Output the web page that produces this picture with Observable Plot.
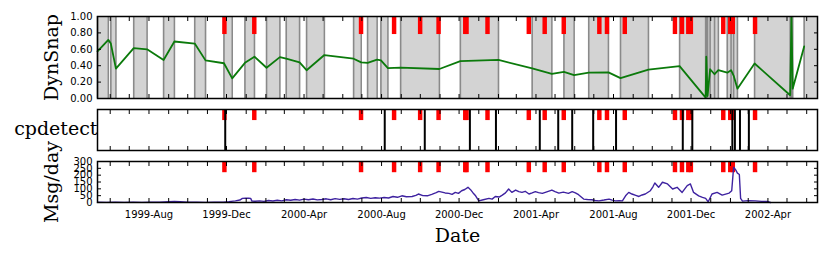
<!DOCTYPE html>
<html>
<head>
<meta charset="utf-8">
<script src="https://cdn.jsdelivr.net/npm/d3@7"></script>
<script src="https://cdn.jsdelivr.net/npm/@observablehq/plot@0.6"></script>
<style>
  html, body { margin: 0; padding: 0; background: #fff; }
  #chart { position: relative; width: 830px; height: 257px; overflow: hidden; background: #fff; }
  #chart svg { position: absolute; left: 0; }
</style>
</head>
<body>
<div id="chart"></div>
<script>
// ---------- data ----------
const xDomain = ["1999-05-12", "2002-06-18"];
const xTickDates = ["1999-08-01","1999-12-01","2000-04-01","2000-08-01","2000-12-01","2001-04-01","2001-08-01","2001-12-01","2002-04-01"];
const snapTicks = [0, 0.2, 0.4, 0.6, 0.8, 1.0];
const msgTicks = [0, 50, 100, 150, 200, 250, 300];
const panelLabels = ["DynSnap", "cpdetect", "Msg/day"];
const xLabel = "Date";

// DynSnap values at snapshot boundaries
const snapDates = ["1999-05-12","1999-05-29","1999-06-02","1999-06-10","1999-07-08","1999-07-29","1999-08-24","1999-09-10","1999-10-12","1999-10-29",
  "1999-11-27","1999-12-10","1999-12-30","2000-01-14","2000-02-02","2000-02-23","2000-03-04","2000-03-25","2000-04-05","2000-05-03",
  "2000-06-18","2000-06-30","2000-07-10","2000-07-25","2000-07-31","2000-08-11","2000-08-31","2000-10-31","2000-12-03","2001-02-01",
  "2001-03-26","2001-04-26","2001-05-15","2001-05-31","2001-06-23","2001-07-24","2001-08-12","2001-09-25","2001-11-13","2001-12-24",
  "2001-12-25","2001-12-27","2001-12-31","2002-01-07","2002-01-13","2002-01-27","2002-02-02","2002-02-06","2002-02-12","2002-03-11",
  "2002-05-06","2002-05-08","2002-05-10","2002-05-28"];
const snapValues = [0.575,0.715,0.67,0.365,0.615,0.60,0.47,0.695,0.67,0.465,
  0.43,0.245,0.435,0.51,0.375,0.505,0.485,0.44,0.345,0.53,
  0.485,0.44,0.435,0.475,0.465,0.37,0.377,0.36,0.455,0.47,
  0.367,0.30,0.325,0.286,0.315,0.318,0.248,0.353,0.395,0.01,
  0.51,0.03,0.357,0.296,0.345,0.315,0.345,0.28,0.12,0.427,
  0.04,0.99,0.12,0.635];

// grey shaded snapshot windows
const shadeStart = ["1999-05-12","1999-06-02","1999-07-08","1999-08-24","1999-10-12","1999-11-27","1999-12-30","2000-02-02","2000-03-04","2000-04-05",
  "2000-06-18","2000-07-10","2000-07-31","2000-08-31","2000-12-03","2001-03-26","2001-05-15","2001-06-23","2001-08-12","2001-11-13",
  "2001-12-27","2002-01-27","2002-03-11","2002-05-28"];
const shadeEnd = ["1999-05-29","1999-06-10","1999-07-29","1999-09-10","1999-10-29","1999-12-10","2000-01-14","2000-02-23","2000-03-25","2000-05-03",
  "2000-06-30","2000-07-25","2000-08-11","2000-10-31","2001-02-01","2001-04-26","2001-05-31","2001-07-24","2001-09-25","2001-12-24",
  "2002-01-13","2002-02-12","2002-05-08","2002-06-18"];

// red event weeks
const eventDates = ["1999-11-25","2000-01-11","2000-06-27","2000-08-18","2000-09-28","2000-10-27","2000-12-08","2000-12-10","2001-01-12","2001-03-18",
  "2001-04-12","2001-05-12","2001-07-07","2001-07-19","2001-08-16","2001-11-03","2001-11-14","2001-11-24","2001-11-28","2002-01-18",
  "2002-01-29","2002-02-02","2002-03-09"];
const eventDays = 7;

// cpdetect change points
const cpDates = ["1999-11-29","2000-08-06","2000-10-08","2000-12-18","2001-01-28","2001-04-07","2001-05-06","2001-05-28","2001-06-30","2001-08-05",
  "2001-11-18","2001-12-03","2002-02-04","2002-02-08","2002-02-16","2002-03-02"];

// messages per day
const msgDates = [
  "1999-05-12","1999-05-26","1999-06-09","1999-06-23","1999-07-07","1999-07-21","1999-08-04","1999-08-18","1999-09-01","1999-09-10",
  "1999-09-19","1999-10-01","1999-10-15","1999-10-29","1999-11-12","1999-11-26","1999-12-05","1999-12-15","1999-12-22","1999-12-26",
  "1999-12-31","2000-01-05","2000-01-08","2000-01-10","2000-01-15","2000-01-22","2000-01-29","2000-02-05","2000-02-12","2000-02-19",
  "2000-02-26","2000-03-04","2000-03-11","2000-03-18","2000-03-25","2000-04-01","2000-04-08","2000-04-15","2000-04-22","2000-04-29",
  "2000-05-06","2000-05-13","2000-05-20","2000-05-27","2000-06-03","2000-06-10","2000-06-17","2000-06-24","2000-07-01","2000-07-08",
  "2000-07-15","2000-07-22","2000-07-29","2000-08-05","2000-08-12","2000-08-19","2000-08-26","2000-09-02","2000-09-09","2000-09-18",
  "2000-09-24","2000-09-28","2000-10-05","2000-10-12","2000-10-19","2000-10-26","2000-10-30","2000-11-04","2000-11-09","2000-11-15",
  "2000-11-20","2000-11-25","2000-11-30","2000-12-05","2000-12-10","2000-12-15","2000-12-19","2000-12-23","2000-12-27","2001-01-01",
  "2001-01-08","2001-01-17","2001-01-22","2001-01-27","2001-02-02","2001-02-07","2001-02-12","2001-02-17","2001-02-22","2001-02-28",
  "2001-03-05","2001-03-10","2001-03-15","2001-03-21","2001-03-26","2001-03-31","2001-04-05","2001-04-11","2001-04-18","2001-04-26",
  "2001-05-01","2001-05-07","2001-05-14","2001-05-22","2001-05-28","2001-06-02","2001-06-07","2001-06-15","2001-06-21","2001-06-28",
  "2001-07-03","2001-07-09","2001-07-17","2001-07-25","2001-07-30","2001-08-04","2001-08-10","2001-08-15","2001-08-20","2001-08-25",
  "2001-08-30","2001-09-05","2001-09-10","2001-09-15","2001-09-20","2001-09-28","2001-10-02","2001-10-05","2001-10-11","2001-10-17",
  "2001-10-25","2001-11-02","2001-11-09","2001-11-17","2001-11-25","2001-11-30","2001-12-05","2001-12-13","2001-12-19","2001-12-24",
  "2001-12-28","2002-01-03","2002-01-11","2002-01-19","2002-01-30","2002-02-03","2002-02-06","2002-02-09","2002-02-12","2002-02-15",
  "2002-02-17","2002-02-20","2002-03-01","2002-03-12","2002-03-22","2002-03-31","2002-04-05"];
const msgValues = [
  2,1,2,1,2,1,2,3,6,7,
  5,3,2,1,2,3,6,12,18,30,
  32,31,30,10,9,12,8,15,11,16,
  12,20,16,22,17,25,20,26,19,22,
  27,20,28,23,27,22,29,25,33,37,
  30,35,32,37,33,44,38,49,42,44,
  52,62,50,49,60,72,81,76,70,67,
  60,74,67,86,95,111,94,70,49,12,
  20,30,25,44,40,54,70,99,74,91,
  80,74,82,62,70,79,72,67,78,91,
  80,69,76,67,79,70,57,25,22,20,
  15,12,18,25,17,12,14,12,49,74,
  62,52,44,55,62,86,115,143,111,148,
  136,99,111,74,124,136,74,49,38,30,
  5,62,74,54,69,86,258,240,215,205,
  30,10,14,12,8,7,0];

// ---------- build ----------
const parse = d3.utcParse("%Y-%m-%d");
const domain = xDomain.map(parse);
const monthTicks = d3.utcMonth.range(domain[0], domain[1]).filter(d => d > domain[0]);
const snap = snapDates.map((d, i) => ({date: parse(d), value: snapValues[i]}));
const shades = shadeStart.map((s, i) => ({x1: parse(s), x2: parse(shadeEnd[i])}));
const events = eventDates.map(s => ({x1: parse(s), x2: d3.utcDay.offset(parse(s), eventDays)}));
const cps = cpDates.map(parse);
const msg = msgDates.map((d, i) => ({date: parse(d), value: msgValues[i]}));
const xTicks = xTickDates.map(parse);

const W = 830, ML = 97, MR = 13;
const serif = "DejaVu Serif";
const baseStyle = {fontFamily: "DejaVu Sans", fontSize: "10px", background: "transparent", overflow: "visible", color: "black"};

function boxTicks(yTicks) {
  const blank = () => "";
  const marks = [
    Plot.axisX({anchor: "bottom", ticks: monthTicks, tickSize: 4, dy: -4, tickFormat: blank, label: null, strokeWidth: 1}),
    Plot.axisX({anchor: "top", ticks: monthTicks, tickSize: 4, dy: 4, tickFormat: blank, label: null, strokeWidth: 1})
  ];
  if (yTicks) {
    marks.push(Plot.axisY({anchor: "left", ticks: yTicks, tickSize: 4, dx: 4, tickFormat: blank, label: null}));
    marks.push(Plot.axisY({anchor: "right", ticks: yTicks, tickSize: 4, dx: -4, tickFormat: blank, label: null}));
  }
  return marks;
}

function yLabel(t) {
  return Plot.text([t], {text: d => d, frameAnchor: "left", textAnchor: "middle", lineAnchor: "middle",
    dx: -46, rotate: -90, fontFamily: serif, fontSize: 19});
}

function place(svg, top) {
  svg.style.top = top + "px";
  document.getElementById("chart").appendChild(svg);
}

// Panel 1: DynSnap
place(Plot.plot({
  width: W, height: 100, marginLeft: ML, marginRight: MR, marginTop: 16, marginBottom: 2,
  style: baseStyle,
  x: {type: "utc", domain, axis: null},
  y: {domain: [0, 1], axis: null},
  marks: [
    Plot.rect(shades, {x1: "x1", x2: "x2", y1: () => 0, y2: () => 1, fill: "#d3d3d3"}),
    Plot.ruleX(snap, {x: "date", stroke: "#8a8a8a", strokeWidth: 1.6}),
    Plot.rect(events, {x1: "x1", x2: "x2", y1: () => 0.78, y2: () => 1, fill: "#ff0000"}),
    Plot.line(snap, {x: "date", y: "value", stroke: "#0b7a0b", strokeWidth: 1.8}),
    Plot.frame({stroke: "black", strokeWidth: 1.5}),
    ...boxTicks(snapTicks),
    Plot.axisY({anchor: "left", ticks: snapTicks, tickSize: 0, tickPadding: 5, tickFormat: d3.format(".2f"), label: null}),
    yLabel(panelLabels[0])
  ]
}), 0);

// Panel 2: cpdetect
place(Plot.plot({
  width: W, height: 52, marginLeft: ML, marginRight: MR, marginTop: 9, marginBottom: 2,
  style: baseStyle,
  x: {type: "utc", domain, axis: null},
  y: {domain: [0, 1], axis: null},
  marks: [
    Plot.rect(events, {x1: "x1", x2: "x2", y1: () => 0.73, y2: () => 1, fill: "#ff0000"}),
    Plot.ruleX(cps, {x: d => d, stroke: "black", strokeWidth: 2}),
    Plot.frame({stroke: "black", strokeWidth: 1.5}),
    ...boxTicks(null),
    Plot.text([panelLabels[1]], {text: d => d, frameAnchor: "left", textAnchor: "end", lineAnchor: "middle", dx: 0, dy: -1.5, fontFamily: serif, fontSize: 19})
  ]
}), 100);

// Panel 3: Msg/day
place(Plot.plot({
  width: W, height: 105, marginLeft: ML, marginRight: MR, marginTop: 9, marginBottom: 55,
  style: baseStyle,
  x: {type: "utc", domain, axis: null},
  y: {domain: [0, 300], axis: null},
  marks: [
    Plot.rect(events, {x1: "x1", x2: "x2", y1: () => 218, y2: () => 300, fill: "#ff0000"}),
    Plot.line(msg, {x: "date", y: "value", stroke: "#3e22a0", strokeWidth: 1.4}),
    Plot.frame({stroke: "black", strokeWidth: 1.5}),
    ...boxTicks(msgTicks),
    Plot.axisY({anchor: "left", ticks: msgTicks, tickSize: 0, tickPadding: 5, tickFormat: d3.format("d"), label: null}),
    Plot.axisX({anchor: "bottom", ticks: xTicks, tickSize: 0, tickPadding: 8, tickFormat: d3.utcFormat("%Y-%b"), label: null}),
    yLabel(panelLabels[2]),
    Plot.text([xLabel], {text: d => d, frameAnchor: "bottom", textAnchor: "middle", lineAnchor: "middle", dy: 33, fontFamily: serif, fontSize: 19})
  ]
}), 152);
</script>
</body>
</html>
